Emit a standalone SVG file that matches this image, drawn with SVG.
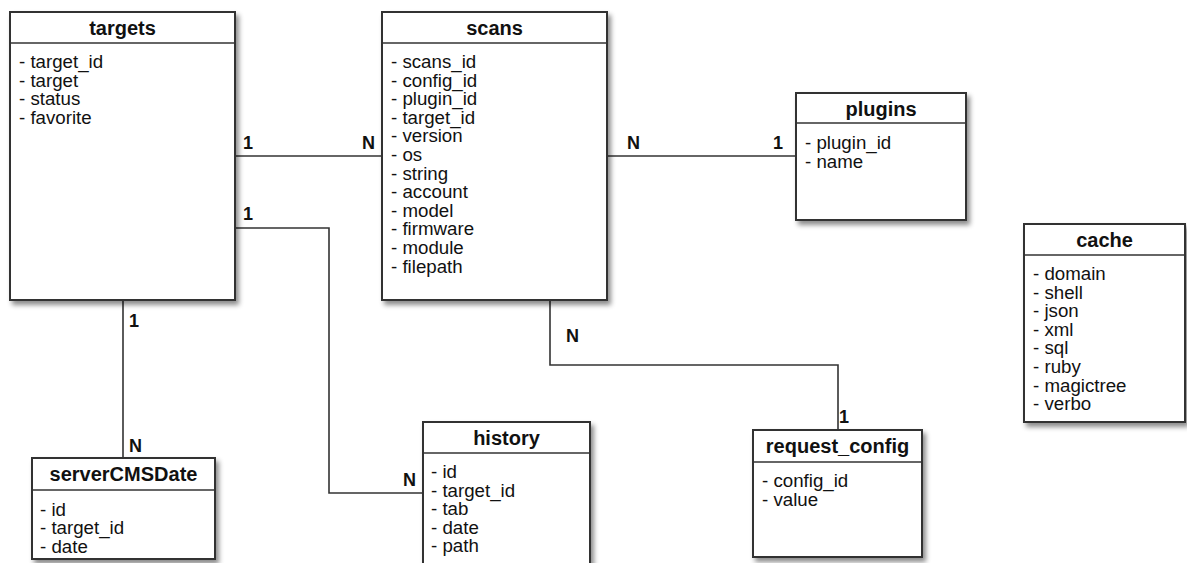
<svg xmlns="http://www.w3.org/2000/svg" width="1187" height="563" viewBox="0 0 1187 563">
  <defs>
    <filter id="shadow" x="-10%" y="-10%" width="130%" height="130%">
      <feDropShadow dx="3" dy="4" stdDeviation="2.5" flood-color="#000" flood-opacity="0.45"/>
    </filter>
    <style>
      .box { fill: #ffffff; stroke: #333333; stroke-width: 2; filter: url(#shadow); }
      .sep { stroke: #333333; stroke-width: 1.6; }
      .title { font-family: "Liberation Sans", Arial, sans-serif; font-weight: bold; font-size: 20px; fill: #111111; text-anchor: middle; }
      .attr { font-family: "Liberation Sans", Arial, sans-serif; font-size: 18.7px; fill: #111111; }
      .link { fill: none; stroke: #333333; stroke-width: 1.6; }
      .card { font-family: "Liberation Sans", Arial, sans-serif; font-weight: bold; font-size: 18px; fill: #111111; }
    </style>
  </defs>
  <rect width="1187" height="563" fill="#ffffff"/>

  <!-- relationship lines -->
  <g id="connectors">
    <path class="link" d="M235,156 H382"/>
    <path class="link" d="M235,228 H329 V493 H423"/>
    <path class="link" d="M607,156 H796"/>
    <path class="link" d="M123,300 V458"/>
    <path class="link" d="M550,300 V365 H838 V430"/>
    <text class="card" x="243" y="149">1</text>
    <text class="card" x="362" y="149">N</text>
    <text class="card" x="243" y="220">1</text>
    <text class="card" x="403" y="486">N</text>
    <text class="card" x="627" y="149">N</text>
    <text class="card" x="773" y="149">1</text>
    <text class="card" x="129" y="327">1</text>
    <text class="card" x="129" y="452">N</text>
    <text class="card" x="566" y="342">N</text>
    <text class="card" x="839" y="423">1</text>
  </g>

  <g id="targets">
    <rect class="box" x="10" y="12" width="225" height="288"/>
    <line class="sep" x1="10" y1="43" x2="235" y2="43"/>
    <text class="title" x="122.5" y="35">targets</text>
    <text class="attr" x="19" y="68">- target_id</text>
    <text class="attr" x="19" y="86.6">- target</text>
    <text class="attr" x="19" y="105.2">- status</text>
    <text class="attr" x="19" y="123.8">- favorite</text>
  </g>

  <g id="scans">
    <rect class="box" x="382" y="12" width="225" height="288"/>
    <line class="sep" x1="382" y1="43" x2="607" y2="43"/>
    <text class="title" x="494.5" y="35">scans</text>
    <text class="attr" x="391" y="68">- scans_id</text>
    <text class="attr" x="391" y="86.6">- config_id</text>
    <text class="attr" x="391" y="105.2">- plugin_id</text>
    <text class="attr" x="391" y="123.8">- target_id</text>
    <text class="attr" x="391" y="142.4">- version</text>
    <text class="attr" x="391" y="161">- os</text>
    <text class="attr" x="391" y="179.6">- string</text>
    <text class="attr" x="391" y="198.2">- account</text>
    <text class="attr" x="391" y="216.8">- model</text>
    <text class="attr" x="391" y="235.4">- firmware</text>
    <text class="attr" x="391" y="254">- module</text>
    <text class="attr" x="391" y="272.6">- filepath</text>
  </g>

  <g id="plugins">
    <rect class="box" x="796" y="93" width="170" height="127"/>
    <line class="sep" x1="796" y1="123" x2="966" y2="123"/>
    <text class="title" x="881" y="116">plugins</text>
    <text class="attr" x="805" y="149">- plugin_id</text>
    <text class="attr" x="805" y="167.6">- name</text>
  </g>

  <g id="cache">
    <rect class="box" x="1024" y="224" width="161" height="198"/>
    <line class="sep" x1="1024" y1="255" x2="1185" y2="255"/>
    <text class="title" x="1104.5" y="247">cache</text>
    <text class="attr" x="1033" y="280">- domain</text>
    <text class="attr" x="1033" y="298.6">- shell</text>
    <text class="attr" x="1033" y="317.2">- json</text>
    <text class="attr" x="1033" y="335.8">- xml</text>
    <text class="attr" x="1033" y="354.4">- sql</text>
    <text class="attr" x="1033" y="373">- ruby</text>
    <text class="attr" x="1033" y="391.6">- magictree</text>
    <text class="attr" x="1033" y="410.2">- verbo</text>
  </g>

  <g id="serverCMSDate">
    <rect class="box" x="32" y="458" width="183" height="101"/>
    <line class="sep" x1="32" y1="490" x2="215" y2="490"/>
    <text class="title" x="123.5" y="481">serverCMSDate</text>
    <text class="attr" x="40" y="515.5">- id</text>
    <text class="attr" x="40" y="534.1">- target_id</text>
    <text class="attr" x="40" y="552.7">- date</text>
  </g>

  <g id="history">
    <rect class="box" x="423" y="422" width="167" height="160"/>
    <line class="sep" x1="423" y1="453" x2="590" y2="453"/>
    <text class="title" x="506.5" y="445">history</text>
    <text class="attr" x="431" y="478">- id</text>
    <text class="attr" x="431" y="496.6">- target_id</text>
    <text class="attr" x="431" y="515.2">- tab</text>
    <text class="attr" x="431" y="533.8">- date</text>
    <text class="attr" x="431" y="552.4">- path</text>
  </g>

  <g id="request_config">
    <rect class="box" x="753" y="430" width="169" height="127"/>
    <line class="sep" x1="753" y1="462" x2="922" y2="462"/>
    <text class="title" x="837.5" y="453">request_config</text>
    <text class="attr" x="762" y="487">- config_id</text>
    <text class="attr" x="762" y="505.6">- value</text>
  </g>
</svg>
